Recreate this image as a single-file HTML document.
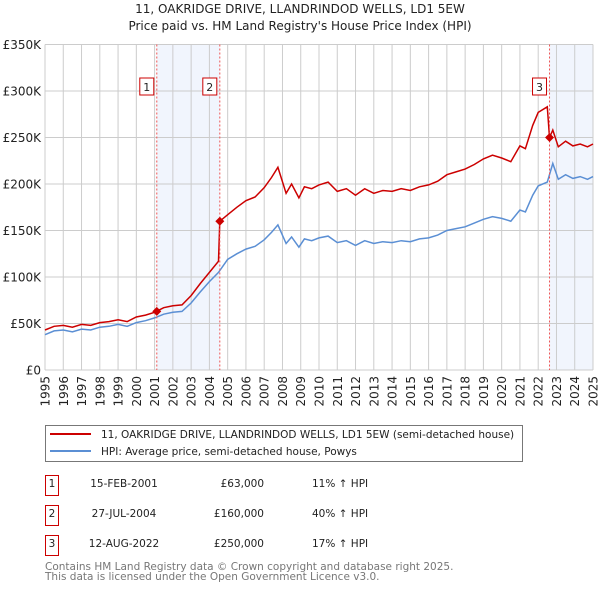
<!DOCTYPE html>
<html><head><meta charset="utf-8"><style>
body{margin:0;background:#fff;font-family:"Liberation Sans","DejaVu Sans",sans-serif;}
svg text{font-family:"DejaVu Sans","Liberation Sans",sans-serif;}
</style></head><body>
<svg id="c" width="600" height="590" xmlns="http://www.w3.org/2000/svg">
<text x="300" y="13" text-anchor="middle" font-size="12" fill="#222">11, OAKRIDGE DRIVE, LLANDRINDOD WELLS, LD1 5EW</text>
<text x="300" y="30" text-anchor="middle" font-size="12" fill="#222">Price paid vs. HM Land Registry's House Price Index (HPI)</text>
<g id="grid"></g><g id="series"></g><g id="marks"></g>
<g>
<rect x="45.5" y="425.5" width="477" height="36" fill="#fff" stroke="#777"/>
<line x1="50" y1="434" x2="91" y2="434" stroke="#cc0000" stroke-width="2"/>
<text x="101" y="438" font-size="10.5" fill="#222">11, OAKRIDGE DRIVE, LLANDRINDOD WELLS, LD1 5EW (semi-detached house)</text>
<line x1="50" y1="451" x2="91" y2="451" stroke="#5b8fd4" stroke-width="2"/>
<text x="101" y="455" font-size="10.5" fill="#222">HPI: Average price, semi-detached house, Powys</text>
</g>
<g id="table" font-size="10.5" fill="#222"></g>
<text x="45" y="570" font-size="10.5" fill="#777">Contains HM Land Registry data © Crown copyright and database right 2025.</text>
<text x="45" y="580" font-size="10.5" fill="#777">This data is licensed under the Open Government Licence v3.0.</text>
</svg>
<script>
const hpiYears=[1995.0,1995.5,1996.0,1996.5,1997.0,1997.5,1998.0,1998.5,1999.0,1999.5,2000.0,2000.5,2001.0,2001.5,2002.0,2002.5,2003.0,2003.5,2004.0,2004.5,2005.0,2005.5,2006.0,2006.5,2007.0,2007.4,2007.75,2008.2,2008.5,2008.9,2009.2,2009.6,2010.0,2010.5,2011.0,2011.5,2012.0,2012.5,2013.0,2013.5,2014.0,2014.5,2015.0,2015.5,2016.0,2016.5,2017.0,2017.5,2018.0,2018.5,2019.0,2019.5,2020.0,2020.5,2021.0,2021.3,2021.7,2022.0,2022.5,2022.8,2023.1,2023.5,2023.9,2024.3,2024.7,2025.0];
const hpiValues=[38,42,43,41,44,43,46,47,49,47,51,53,56,60,62,63,72,84,95,105,119,125,130,133,140,148,156,136,143,132,141,139,142,144,137,139,134,139,136,138,137,139,138,141,142,145,150,152,154,158,162,165,163,160,172,170,188,198,202,222,205,210,206,208,205,208];
const priceYears=[1995.0,1995.5,1996.0,1996.5,1997.0,1997.5,1998.0,1998.5,1999.0,1999.5,2000.0,2000.5,2001.0,2001.5,2002.0,2002.5,2003.0,2003.5,2004.0,2004.5,2004.57,2005.0,2005.5,2006.0,2006.5,2007.0,2007.4,2007.75,2008.2,2008.5,2008.9,2009.2,2009.6,2010.0,2010.5,2011.0,2011.5,2012.0,2012.5,2013.0,2013.5,2014.0,2014.5,2015.0,2015.5,2016.0,2016.5,2017.0,2017.5,2018.0,2018.5,2019.0,2019.5,2020.0,2020.5,2021.0,2021.3,2021.7,2022.0,2022.5,2022.62,2022.8,2023.1,2023.5,2023.9,2024.3,2024.7,2025.0];
const priceValues=[43,47,48,46,49,48,51,52,54,52,57,59,62,67,69,70,80,93,105,117,160,167,175,182,186,196,207,218,190,200,185,197,195,199,202,192,195,188,195,190,193,192,195,193,197,199,203,210,213,216,221,227,231,228,224,241,238,263,277,283,250,258,240,246,241,243,240,243];
const saleYears=[2001.12,2004.57,2022.62];
const salePrices=[63,160,250];
const saleLabels=["1","2","3"];
const saleDates=["15-FEB-2001","27-JUL-2004","12-AUG-2022"];
const salePriceText=["£63,000","£160,000","£250,000"];
const saleHpiText=["11% ↑ HPI","40% ↑ HPI","17% ↑ HPI"];
const yTicks=[0,50,100,150,200,250,300,350];
const yTickLabels=["£0","£50K","£100K","£150K","£200K","£250K","£300K","£350K"];
const xTicks=[1995,1996,1997,1998,1999,2000,2001,2002,2003,2004,2005,2006,2007,2008,2009,2010,2011,2012,2013,2014,2015,2016,2017,2018,2019,2020,2021,2022,2023,2024,2025];

const X0=45,X1=593,Y0=370,Y1=44.5;
const xs=y=>X0+(y-1995)/30*(X1-X0);
const ys=v=>Y0-v/350*(Y0-Y1);
const NS="http://www.w3.org/2000/svg";
function mk(parent,tag,attrs,text){const e=document.createElementNS(NS,tag);for(const k in attrs)e.setAttribute(k,attrs[k]);if(text!==undefined)e.textContent=text;document.getElementById(parent).appendChild(e);return e;}
let sh=mk('grid','rect',{x:xs(saleYears[0]),y:Y1,width:xs(saleYears[1])-xs(saleYears[0]),height:Y0-Y1,fill:'#eef3fd',opacity:0.8});


let sh2=mk('grid','rect',{x:xs(saleYears[2]),y:Y1,width:X1-xs(saleYears[2]),height:Y0-Y1,fill:'#eef3fd',opacity:0.8});


yTicks.forEach((t,i)=>{
 const l=mk('grid','line',{x1:X0,x2:X1,y1:ys(t),y2:ys(t),stroke:'#cccccc'});
 
 
 const tx=mk('grid','text',{x:X0-4,y:ys(t)+4.5,'text-anchor':'end','font-size':'12',fill:'#222'},yTickLabels[i]);
 
 
});
xTicks.forEach(t=>{
 const l=mk('grid','line',{x1:xs(t),x2:xs(t),y1:Y1,y2:Y0,stroke:'#cccccc'});
 
 
 const tx=mk('grid','text',{x:0,y:0,'text-anchor':'end','font-size':'12',fill:'#222',transform:`translate(${xs(t)+4.5},${Y0+6}) rotate(-90)`},String(t));
 
 
});
function path(xa,va){return xa.map((y,i)=>(i?'L':'M')+xs(y).toFixed(1)+','+ys(va[i]).toFixed(1)).join('');}
const hp=mk('series','path',{d:path(hpiYears,hpiValues),fill:'none',stroke:'#5b8fd4','stroke-width':1.5});


const pp=mk('series','path',{d:path(priceYears,priceValues),fill:'none',stroke:'#cc0000','stroke-width':1.5});


saleYears.forEach((y,i)=>{
 const x=xs(y);
 const vl=mk('marks','line',{x1:x,x2:x,y1:Y1,y2:Y0,stroke:'#ee5555','stroke-dasharray':'2,2'});
 
 
 const cy=ys(salePrices[i]);
 const d=mk('marks','path',{d:`M${x},${cy-4.5}L${x+4.5},${cy}L${x},${cy+4.5}L${x-4.5},${cy}Z`,fill:'#cc0000'});
 
 
 const b=mk('marks','rect',{x:x-17,y:78,width:14,height:17,fill:'#fff',stroke:'#cc0000'});
 
 
 const t=mk('marks','text',{x:x-10,y:91,'text-anchor':'middle','font-size':'11',fill:'#222'},saleLabels[i]);
 
 
 const ty=487+i*30;
 const tb=mk('table','rect',{x:45.5,y:ty-11.5,width:13,height:20,fill:'#fff',stroke:'#cc0000'});
 
 
 const c0=mk('table','text',{x:52,y:ty,'text-anchor':'middle'},saleLabels[i]);
 
 
 const c1=mk('table','text',{x:124,y:ty,'text-anchor':'middle'},saleDates[i]);
 
 
 const c2=mk('table','text',{x:264,y:ty,'text-anchor':'end'},salePriceText[i]);
 
 
 const c3=mk('table','text',{x:312,y:ty},saleHpiText[i]);
 
 
});
</script>
</body></html>
